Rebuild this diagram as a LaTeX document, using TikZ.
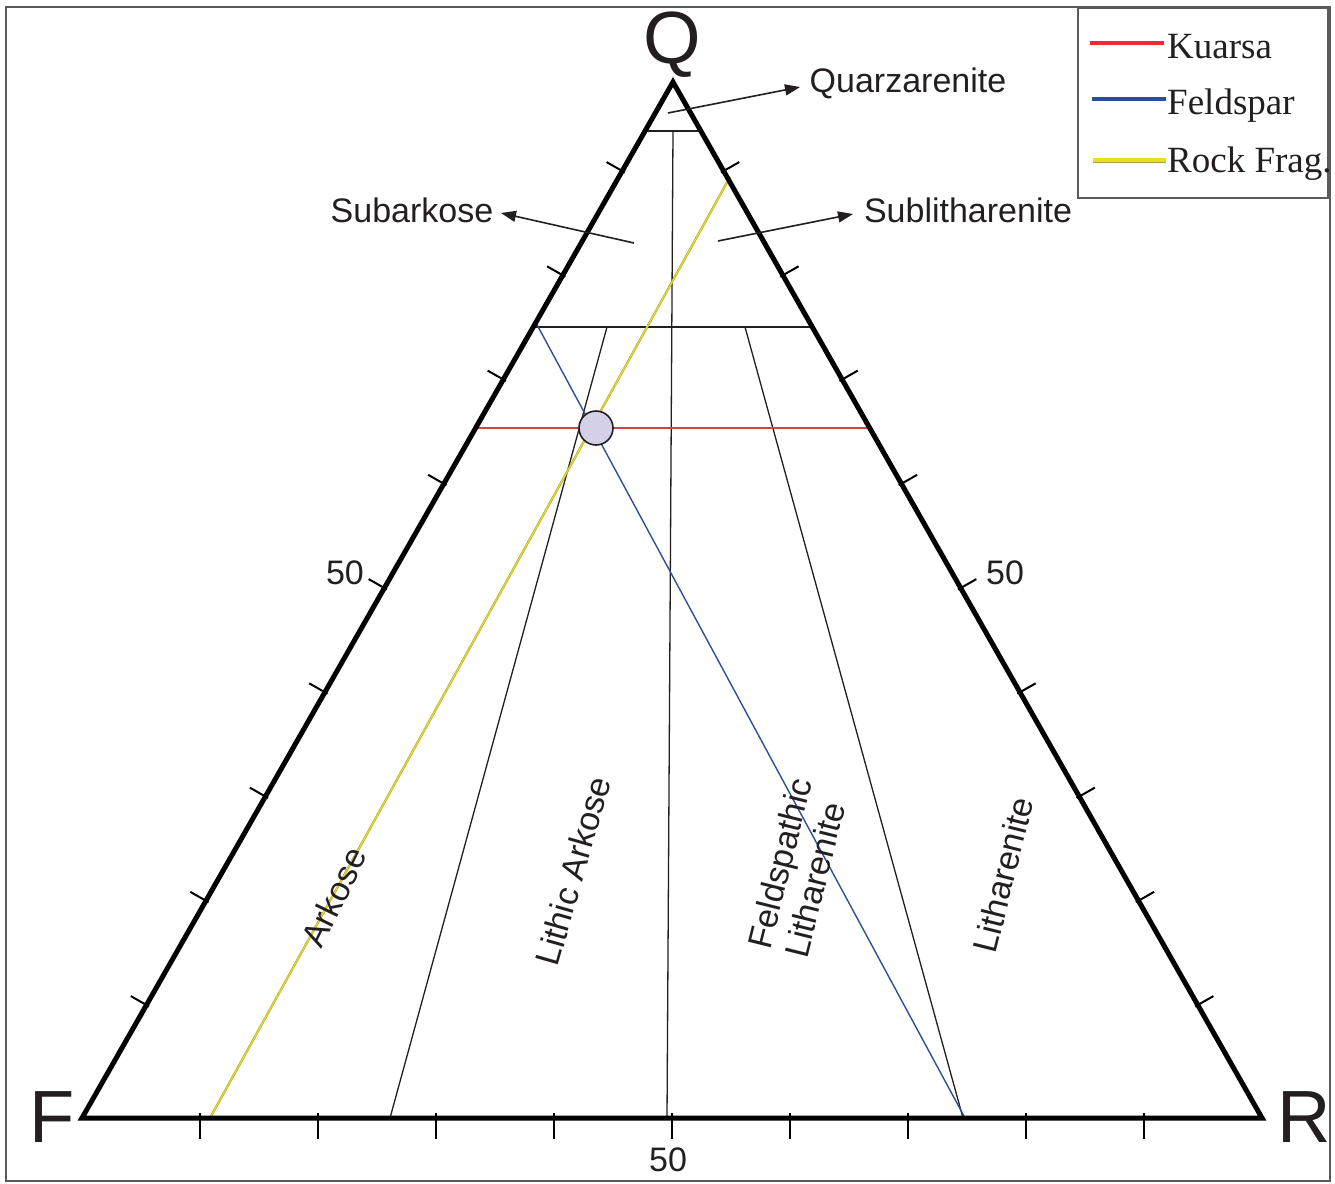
\documentclass[tikz,border=0pt]{standalone}
\usepackage{fontspec}
\setmainfont{Liberation Sans}
\newfontfamily\legfont{Liberation Serif}
\usetikzlibrary{arrows.meta}
\definecolor{ink}{RGB}{35,31,32}
\definecolor{frm}{RGB}{90,90,90}
\definecolor{kred}{RGB}{205,70,70}
\definecolor{kredleg}{RGB}{232,45,45}
\definecolor{fblue}{RGB}{45,80,150}
\definecolor{fblueleg}{RGB}{40,75,165}
\definecolor{ryel}{RGB}{235,222,30}
\definecolor{ryeledge}{RGB}{170,160,60}
\definecolor{dotfill}{RGB}{212,208,232}
\tikzset{
  tri/.style={line width=5pt, line join=miter, draw=black},
  inner/.style={line width=1.3pt, draw=ink},
  tickmark/.style={line width=2pt, draw=black},
  arr/.style={line width=1.6pt, draw=ink, -{Triangle[length=15pt,width=11pt]}},
  lab/.style={font=\fontsize{34}{40}\selectfont, text=ink, inner sep=0pt},
  vlab/.style={font=\fontsize{74}{80}\selectfont, text=ink, inner sep=0pt},
  leg/.style={font=\legfont\fontsize{37}{42}\selectfont, text=ink, inner sep=0pt, anchor=base west},
  legline/.style={line width=4pt},
}
\begin{document}
\begin{tikzpicture}[x=1pt,y=-1pt]
\useasboundingbox (0,0) rectangle (1335,1183);
\fill[white] (0,0) rectangle (1335,1183);
% outer frame
\draw[frm, line width=1.5pt] (6,7) rectangle (1330,1181);

% vertices
\coordinate (F) at (82,1118);
\coordinate (R) at (1262,1118);
\coordinate (Q) at (673,82);

% horizontal class lines
\coordinate (q95l) at (644.1,131);
\coordinate (q95r) at (700.9,131);
\coordinate (q75l) at (532.5,327);
\coordinate (q75r) at (812.5,327);
\draw[inner] (q95l) -- (q95r);
\draw[inner] (q75l) -- (q75r);

% internal lines
\coordinate (ctop) at (673,131);
\coordinate (cbot) at (667,1118);
\coordinate (latop) at (607,327);
\coordinate (labot) at (390,1118);
\coordinate (fltop) at (745,327);
\coordinate (flbot) at (963,1118);
\draw[inner] (ctop) -- (cbot);
\draw[inner] (latop) -- (labot);
\draw[inner] (fltop) -- (flbot);

% sample lines
\coordinate (kl) at (475,428);
\coordinate (kr) at (870,428);
\draw[kred, line width=1.4pt] (kl) -- (kr);
\coordinate (ft) at (535.5,322);
\coordinate (fb) at (965,1118);
\draw[fblue, line width=1.4pt] (ft) -- (fb);
\coordinate (rb) at (210,1118);
\coordinate (rt) at (730,177);
\draw[ryeledge, line width=2.2pt] (rb) -- (rt);
\draw[ryel, line width=1.1pt] (rb) -- (rt);

% triangle
\draw[tri] (F) -- (R) -- (Q) -- cycle;

% ticks
\foreach \k in {1,...,9} {
  \draw[tickmark] (82+118*\k,1113) -- (82+118*\k,1139);
}
\foreach \k in {0,...,8} {
  \pgfmathsetmacro\yy{1005-104.25*\k}
  \pgfmathsetmacro\xl{82+0.57046*(1118-\yy)}
  \pgfmathsetmacro\xr{1262-0.56853*(1118-\yy)}
  \draw[tickmark] (\xl+0.869*3,\yy+0.495*3) -- (\xl-0.869*18,\yy-0.495*18);
  \draw[tickmark] (\xr-0.869*3,\yy+0.495*3) -- (\xr+0.869*18,\yy-0.495*18);
}

% sample point
\node[circle, draw=ink, line width=1.6pt, fill=dotfill, minimum size=34pt, inner sep=0pt] (pt) at (596,428) {};

% vertex labels
\node[vlab] (lQ) at (672,45) {Q};
\node[vlab] (lF) at (52,1117) {F};
\node[vlab] (lR) at (1304,1117) {R};

% 50 labels
\node[lab] (n50l) at (345,573) {50};
\node[lab] (n50r) at (1005,573) {50};
\node[lab] (n50b) at (668,1160) {50};

% field labels with arrows
\node[lab] (qz) at (908,83) {Quarzarenite};
\node[lab] (sa) at (412,210) {Subarkose};
\node[lab] (sl) at (968,210) {Sublitharenite};
\coordinate (qza) at (668,113);
\coordinate (qzb) at (800,87);
\coordinate (saa) at (634,243);
\coordinate (sab) at (501,213);
\coordinate (sla) at (718,241);
\coordinate (slb) at (853,214);
\draw[arr] (qza) -- (qzb);
\draw[arr] (saa) -- (sab);
\draw[arr] (sla) -- (slb);

% rotated field labels
\node[lab, rotate=64] (ark) at (334,897) {Arkose};
\node[lab, rotate=74] (lark) at (573,871) {Lithic Arkose};
\node[lab, rotate=76, align=left, font=\fontsize{34}{38}\selectfont] (flit) at (798,868) {Feldspathic\\Litharenite};
\node[lab, rotate=76] (lit) at (1003,875) {Litharenite};

% legend
\draw[frm, line width=1.5pt] (1078,8) rectangle (1328,198);
\coordinate (l1a) at (1090,43);
\coordinate (l1b) at (1164,43);
\coordinate (l2a) at (1092,99);
\coordinate (l2b) at (1166,99);
\coordinate (l3a) at (1093,160);
\coordinate (l3b) at (1166,160);
\draw[legline, kredleg] (l1a) -- (l1b);
\draw[legline, fblueleg] (l2a) -- (l2b);
\draw[legline, ryeledge, line width=5pt] (l3a) -- (l3b);
\draw[legline, ryel, line width=3.4pt] (l3a) -- (l3b);
\node[leg] (t1) at (1167,58) {Kuarsa};
\node[leg] (t2) at (1167,114) {Feldspar};
\node[leg] (t3) at (1167,172) {Rock Frag.};
\end{tikzpicture}
\end{document}
